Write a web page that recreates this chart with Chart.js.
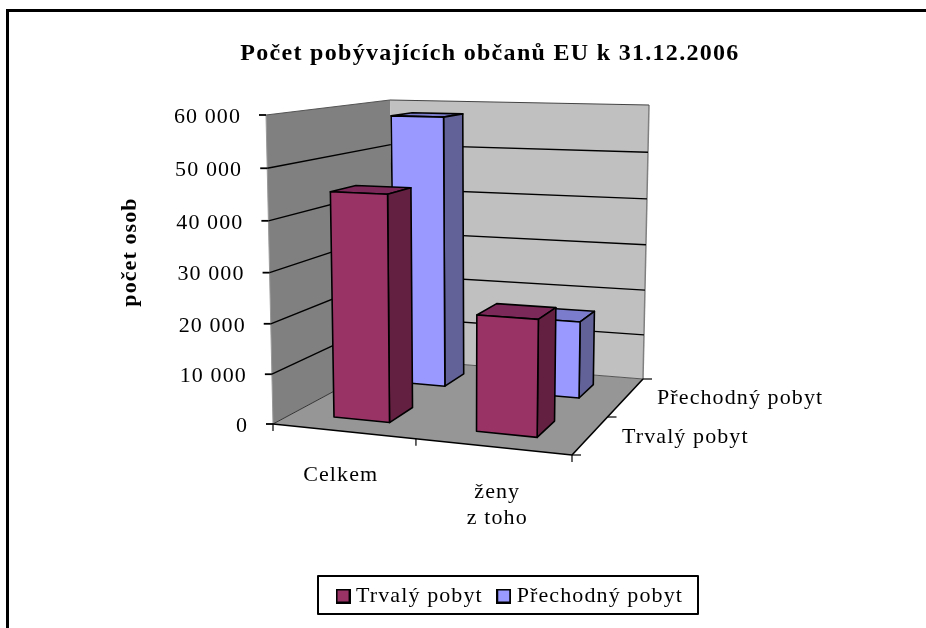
<!DOCTYPE html>
<html lang="cs">
<head>
<meta charset="utf-8">
<title>Počet pobývajících občanů EU k 31.12.2006</title>
<style>html,body{margin:0;padding:0;background:#fff}canvas{display:block}</style>
<script src="https://cdn.jsdelivr.net/npm/chart.js@4/dist/chart.umd.js"></script>
</head>
<body>
<canvas id="c" width="926" height="628"></canvas>
<script>
const chartTitle = 'Počet pobývajících občanů EU k 31.12.2006';
const yAxisTitle = 'počet osob';
const categories = ['Celkem', ['ženy', 'z toho']];
const seriesNames = ['Trvalý pobyt', 'Přechodný pobyt'];
const trvalyPobyt = [45000, 22800];
const prechodnyPobyt = [57800, 16300];
const yTicks = [0, 10000, 20000, 30000, 40000, 50000, 60000];

const FONT = '"Liberation Serif","Times New Roman",serif';
const SPACING = '1.1px';
const TITLE_SPACING = '1.3px';

// Eight screen corners of the 3D plot box (front/back, bottom/top, left/right)
const box = {
  fbl:[273,424], ftl:[266,115], fbr:[572,455], ftr:[577,123],
  bbl:[394,359], btl:[390,100], bbr:[643,379], btr:[649,105]
};
const persp = (t,a) => a*t/(1+(a-1)*t);
const mix = (p,q,k) => [p[0]+(q[0]-p[0])*k, p[1]+(q[1]-p[1])*k];
function project(t,s,d){
  const u = persp(t,.916), v = persp(s,.96);
  const fb = mix(box.fbl,box.fbr,u), ft = mix(box.ftl,box.ftr,u);
  const bb = mix(box.bbl,box.bbr,u), bt = mix(box.btl,box.btr,u);
  return mix(mix(fb,ft,v), mix(bb,bt,v), d);
}
const seriesDepth = [[.17,.39],[.70,.88]];
const seriesFaces = [
  {front:'#993366', side:'#642040', top:'#7A2958'},
  {front:'#9999FF', side:'#626299', top:'#7C7CCC'}
];

function poly(ctx, pts, fill, stroke, lw){
  ctx.beginPath();
  pts.forEach((p,i)=> i ? ctx.lineTo(p[0],p[1]) : ctx.moveTo(p[0],p[1]));
  ctx.closePath();
  if(fill){ctx.fillStyle=fill;ctx.fill();}
  if(stroke){ctx.strokeStyle=stroke;ctx.lineWidth=lw||1;ctx.lineJoin='round';ctx.stroke();}
}
function line(ctx,a,b,color,lw){
  ctx.beginPath();ctx.moveTo(a[0],a[1]);ctx.lineTo(b[0],b[1]);
  ctx.strokeStyle=color;ctx.lineWidth=lw;ctx.stroke();
}
const valueFrac = (chart,v) => {
  const a=chart.chartArea;
  return (a.bottom-chart.scales.y.getPixelForValue(v))/(a.bottom-a.top);
};
function swatch(fill){
  const c=document.createElement('canvas');c.width=15;c.height=15;
  const g=c.getContext('2d');
  g.fillStyle='#000';g.fillRect(0,0,15,15);
  g.fillStyle=fill;g.fillRect(2,2,11,11);
  return c;
}
const swatches = seriesFaces.map(f=>swatch(f.front));

const plot3d = {
  id:'plot3d',
  beforeUpdate(chart){ chart.ctx.letterSpacing = SPACING; },
  afterLayout(chart){
    chart.ctx.letterSpacing = SPACING;
    const t = chart.titleBlock;
    t.left = 60; t.right = 920;
    if(!t.$wrapped){
      t.$wrapped=true;
      const od=t.draw;
      t.draw=function(){
        const c=this.ctx; const old=c.letterSpacing;
        c.letterSpacing=TITLE_SPACING; od.call(this); c.letterSpacing=old;
      };
    }
    const l = chart.legend; const w=l.right-l.left; const cx=512;
    l.left = cx-w/2; l.right = cx+w/2; l.top = 566; l.bottom = l.top+l.height;
    const y = chart.scales.y;
    if(!y.$shifted){
      y.$shifted = true;
      const orig = y.drawTitle;
      y.drawTitle = function(){
        const c=this.ctx; c.save(); c.translate(0,-18); orig.call(this); c.restore();
      };
    }
  },
  beforeDraw(chart){
    const ctx=chart.ctx, a=chart.chartArea;
    ctx.letterSpacing = SPACING;
    // frame of the picture
    ctx.fillStyle='#000';
    ctx.fillRect(6,9,3,619);
    ctx.fillRect(6,9,920,3);
    // shift native tick labels along the slanted axes
    const y=chart.scales.y, x=chart.scales.x;
    y.getLabelItems(a).forEach((it,i)=>{
      if(it.$moved) return; it.$moved=true;
      const p=project(0,valueFrac(chart,yTicks[i]),0);
      it.options.translation=[p[0]-25,p[1]+2];
    });
    const xShift=[-8,9];
    x.getLabelItems(a).forEach((it,i)=>{
      if(it.$moved) return; it.$moved=true;
      it.options.translation=[it.options.translation[0]-(i?0:7),it.options.translation[1]+xShift[i]];
    });
  },
  beforeDatasetsDraw(chart){
    const ctx=chart.ctx;
    // floor and walls
    poly(ctx,[box.fbl,box.fbr,box.bbr,box.bbl],'#969696');
    poly(ctx,[box.fbl,box.ftl,box.btl,box.bbl],'#808080');
    poly(ctx,[box.bbl,box.btl,box.btr,box.bbr],'#C0C0C0');
    line(ctx,box.btr,box.bbr,'#808080',1.5);
    line(ctx,box.ftl,box.fbl,'#9a9a9a',1);
    line(ctx,box.btl,box.btr,'#444',1.2);
    line(ctx,box.ftl,box.btl,'#555',1.2);
    // gridlines from the y scale
    yTicks.forEach(v=>{
      const s=valueFrac(chart,v);
      const f=project(0,s,0), k=project(0,s,1), r=project(1,s,1);
      if(v>0 && v<60000){
        line(ctx,f,k,'#000',1.4);
        line(ctx,k,r,'#000',1.4);
      } else if(v===0){
        line(ctx,f,k,'#333',1);
        line(ctx,k,r,'#555',1);
      }
      line(ctx,[f[0]-7,f[1]],f,'#000',1.8);
    });
    // floor edges and ticks
    line(ctx,box.fbl,box.fbr,'#000',1.6);
    line(ctx,box.fbr,box.bbr,'#000',1.6);
    [0,.5,1].forEach(t=>{
      const p=project(t,0,0);
      line(ctx,p,[p[0],p[1]+7],'#000',1.2);
    });
    [0,.5,1].forEach(d=>{
      const p=project(1,0,d);
      line(ctx,p,[p[0]+9,p[1]],'#000',1.2);
    });
  },
  beforeDatasetDraw(chart,args){
    const ctx=chart.ctx, a=chart.chartArea, i=args.index;
    const W=a.right-a.left, H=a.bottom-a.top;
    const [d0,d1]=seriesDepth[i], c=seriesFaces[i];
    args.meta.data.forEach(el=>{
      const t0=(el.x-el.width/2-a.left)/W, t1=(el.x+el.width/2-a.left)/W;
      const s=(a.bottom-el.y)/H;
      const P=project;
      poly(ctx,[P(t0,s,d0),P(t1,s,d0),P(t1,s,d1),P(t0,s,d1)],c.top,'#000',1.6);
      poly(ctx,[P(t1,0,d0),P(t1,0,d1),P(t1,s,d1),P(t1,s,d0)],c.side,'#000',1.6);
      poly(ctx,[P(t0,0,d0),P(t1,0,d0),P(t1,s,d0),P(t0,s,d0)],c.front,'#000',1.6);
    });
    return false;
  },
  afterDraw(chart){
    const ctx=chart.ctx;
    // depth-axis labels
    ctx.save();
    ctx.font='22px '+FONT;
    ctx.fillStyle='#000';
    ctx.textBaseline='middle';
    ctx.textAlign='left';
    ctx.fillText(seriesNames[1],657,398);
    ctx.fillText(seriesNames[0],622,437);
    ctx.restore();
    // legend frame
    ctx.strokeStyle='#000';ctx.lineWidth=2;
    ctx.strokeRect(318,576,380,38);
  }
};

new Chart(document.getElementById('c'),{
  type:'bar',
  data:{
    labels:categories,
    datasets:[
      {label:seriesNames[0],data:trvalyPobyt,backgroundColor:'#993366',borderColor:'#000',borderWidth:2},
      {label:seriesNames[1],data:prechodnyPobyt,backgroundColor:'#9999FF',borderColor:'#000',borderWidth:2}
    ]
  },
  plugins:[plot3d],
  options:{
    responsive:false,
    animation:false,
    layout:{padding:{left:117,right:354,top:0,bottom:0}},
    datasets:{bar:{grouped:false,barPercentage:.4,categoryPercentage:1}},
    scales:{
      x:{
        type:'category',
        grid:{display:false},border:{display:false},
        ticks:{color:'#000',font:{family:FONT,size:22,lineHeight:1.2},padding:38,autoSkip:false,maxRotation:0},
        afterFit(s){ s.height = 628-424-s.chart.legend.height; }
      },
      y:{
        type:'linear',min:0,max:60000,
        afterBuildTicks(s){ s.ticks = yTicks.map(v=>({value:v})); },
        grid:{display:false},border:{display:false},
        ticks:{color:'#000',font:{family:FONT,size:22},padding:25,
          callback:v=>String(v).replace(/\B(?=(\d{3})+$)/g,' ')},
        title:{display:true,text:yAxisTitle,color:'#000',font:{family:FONT,size:22,weight:'bold'},padding:0},
        afterFit(s){ s.width = 156; }
      }
    },
    plugins:{
      title:{display:true,text:chartTitle,color:'#000',font:{family:FONT,size:24,weight:'bold'},padding:{top:39,bottom:48.2}},
      legend:{display:true,position:'bottom',
        labels:{color:'#000',font:{family:FONT,size:22},usePointStyle:true,pointStyleWidth:4,boxHeight:14,padding:19,
          generateLabels(chart){
            const items=Chart.defaults.plugins.legend.labels.generateLabels(chart);
            items.forEach((it,i)=>{it.pointStyle=swatches[i];});
            return items;
          }}},
      tooltip:{enabled:false}
    }
  }
});
</script>
</body>
</html>
